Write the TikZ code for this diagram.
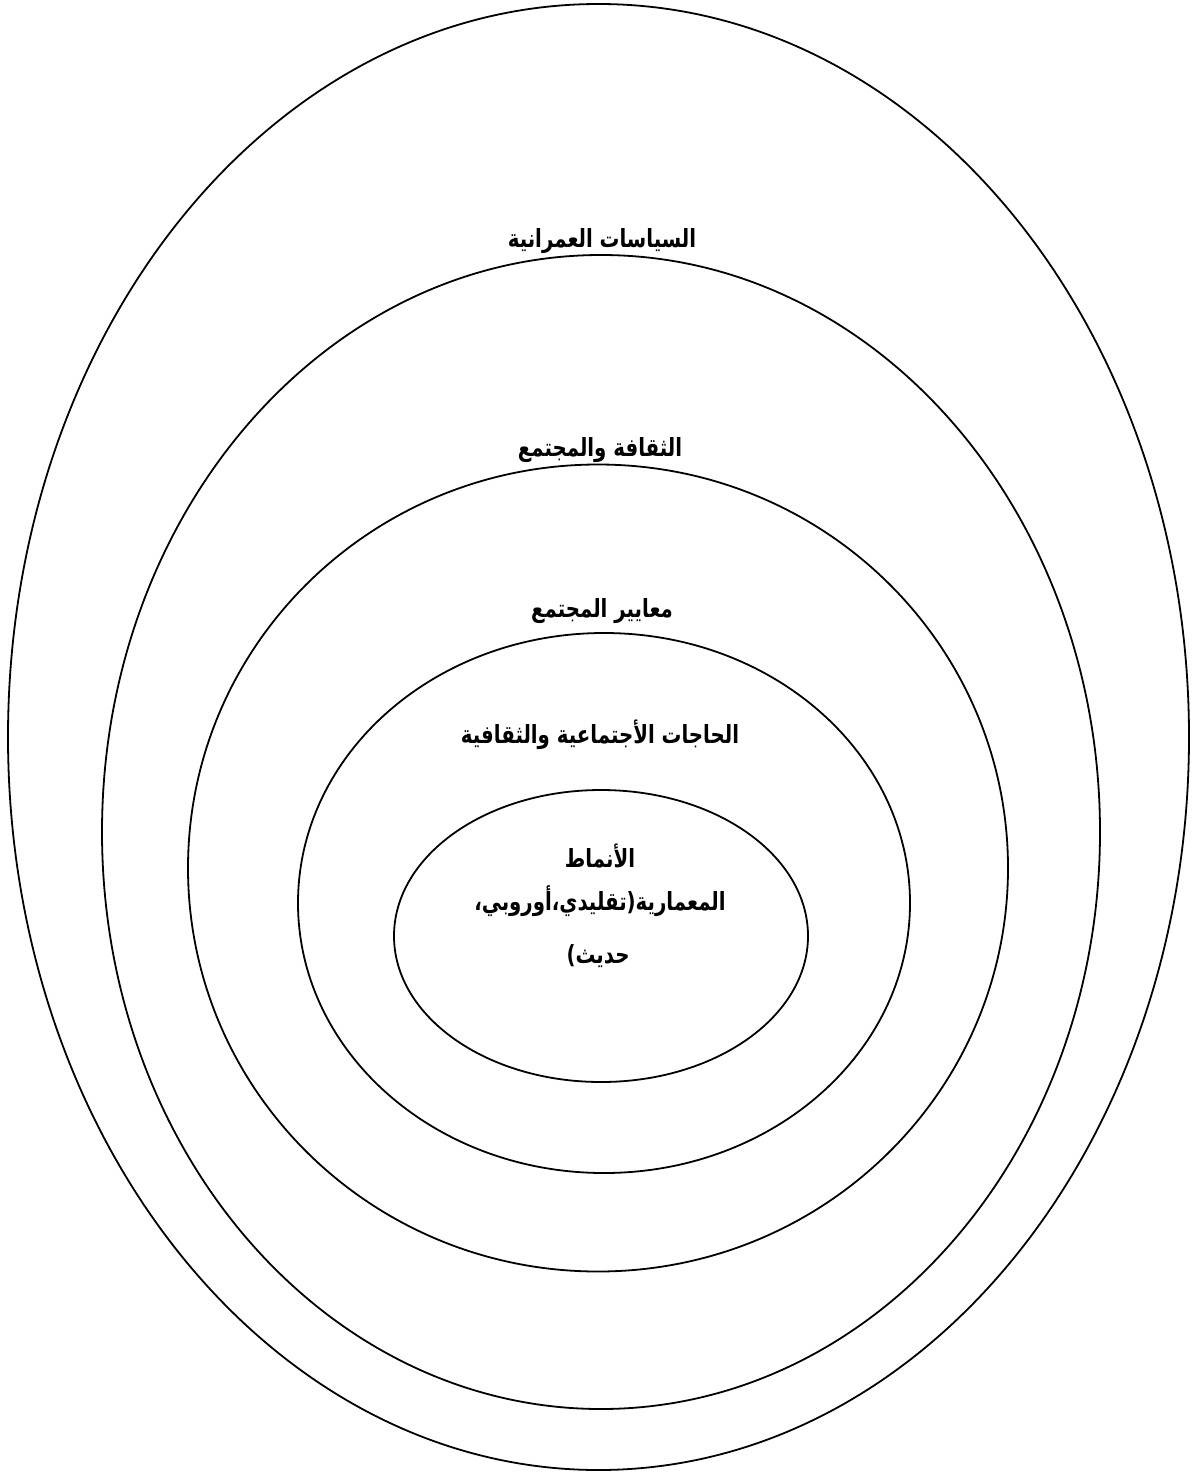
\documentclass[tikz,border=0pt]{standalone}
\usepackage{fontspec}
\usetikzlibrary{shapes.geometric}
\TeXXeTstate=1
\newfontfamily\arabicfont[Script=Arabic,FakeStretch=0.79]{DejaVu Sans}
\tikzset{
  ring/.style={draw=black, line width=0.9pt, ellipse, inner sep=0pt, outer sep=0pt},
  lbl/.style={font=\arabicfont\bfseries\fontsize{12.5}{14}\selectfont, inner sep=0pt, align=center}
}
\begin{document}
\begin{tikzpicture}[x=0.5pt,y=-0.5pt]
\useasboundingbox (0,0) rectangle (1199,1472);
\node[ring, minimum width=590.5pt, minimum height=733pt] (r1) at (598.5,737) {};
\node[ring, minimum width=499pt, minimum height=577pt] (r2) at (601,832) {};
\node[ring, minimum width=410pt, minimum height=403.5pt] (r3) at (598,868) {};
\node[ring, minimum width=306pt, minimum height=270pt] (r4) at (604,903) {};
\node[ring, minimum width=207pt, minimum height=146pt] (r5) at (601,936) {};
\node[lbl] (t1) at (602,241) {\beginR السياسات العمرانية\endR};
\node[lbl] (t2) at (600,450) {\beginR الثقافة والمجتمع\endR};
\node[lbl] (t3) at (602,611) {\beginR معايير المجتمع\endR};
\node[lbl] (t4) at (600,735) {\beginR الحاجات الأجتماعية والثقافية\endR};
\node[lbl] (t5a) at (600,856) {\beginR الأنماط\endR};
\node[lbl] (t5b) at (600,901) {\beginR المعمارية(تقليدي،أوروبي،\endR};
\node[lbl] (t5c) at (598,956) {\beginR حديث)\endR};
\end{tikzpicture}
\end{document}
